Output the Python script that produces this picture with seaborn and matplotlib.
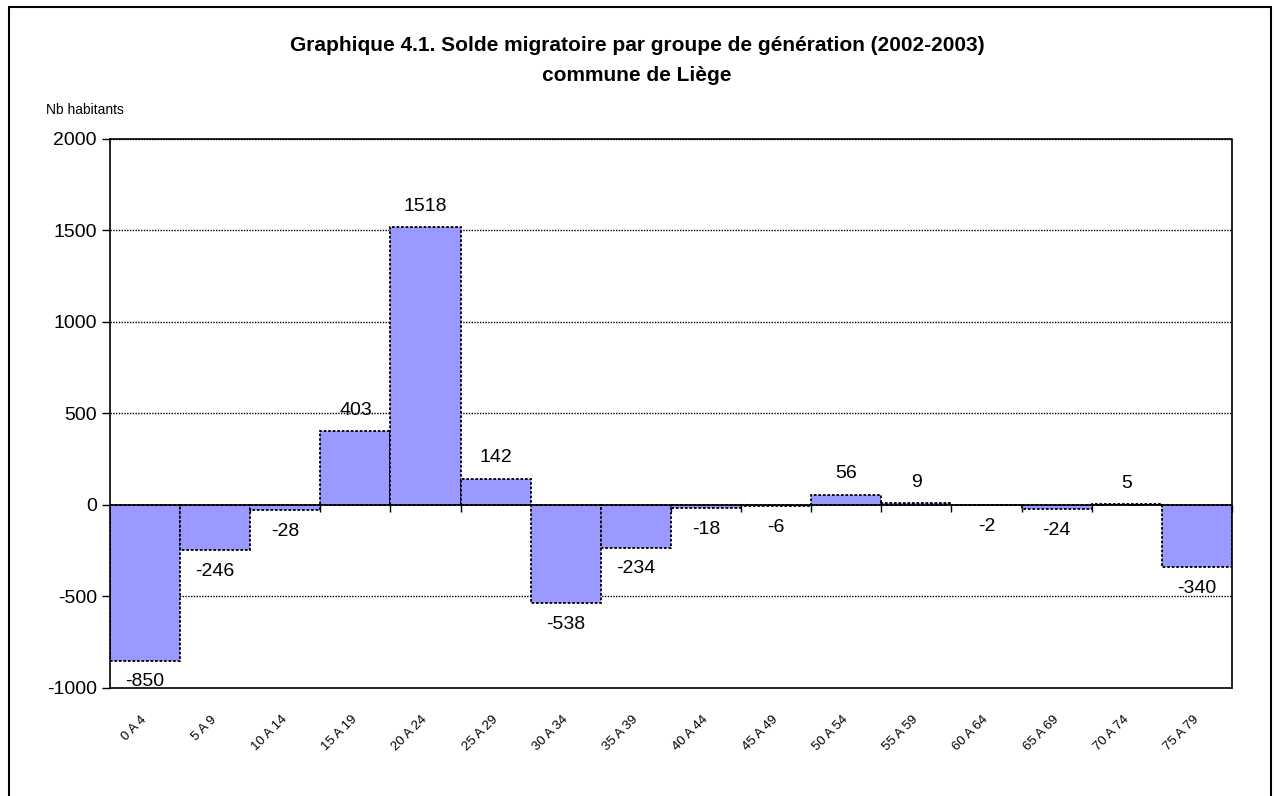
import matplotlib as mpl
import matplotlib.pyplot as plt
import matplotlib.patches as patches
import seaborn as sns
import pandas as pd

sns.set_style("white")
plt.rcParams['font.family'] = ['Liberation Sans', 'DejaVu Sans']
plt.rcParams['text.color'] = 'black'
plt.rcParams['xtick.color'] = 'black'
plt.rcParams['ytick.color'] = 'black'

# donnees
groupes = ['0 A 4', '5 A 9', '10 A 14', '15 A 19', '20 A 24', '25 A 29', '30 A 34', '35 A 39',
           '40 A 44', '45 A 49', '50 A 54', '55 A 59', '60 A 64', '65 A 69', '70 A 74', '75 A 79']
solde = [-850, -246, -28, 403, 1518, 142, -538, -234, -18, -6, 56, 9, -2, -24, 5, -340]
yticks = [-1000, -500, 0, 500, 1000, 1500, 2000]

data = pd.DataFrame({'Groupe': groupes, 'Solde': solde})

fig = plt.figure(figsize=(12.74, 7.96), dpi=100)
ax = fig.add_axes([0.0863, 0.1357, 0.8807, 0.6897])

sns.barplot(data=data, x='Groupe', y='Solde', color='#9999FF', saturation=1, width=1,
            edgecolor='black', linewidth=1.3, linestyle=(0, (1.5, 1)), ax=ax)
ax.set_xlim(-0.5, len(groupes) - 0.5)
ax.set_ylim(-1000, 2000)
ax.set_yticks(yticks)
ax.set_yticklabels([str(v) for v in yticks], fontsize=14)
ax.set_xlabel('')
ax.set_ylabel('')

# grille
for v in yticks[1:]:
    if v != 0:
        ax.axhline(v, color='black', lw=1, ls=(0, (1, 1)), zorder=0)
ax.axhline(0, color='black', lw=1.2, zorder=3)

for side in ['top', 'right', 'bottom']:
    ax.spines[side].set_linestyle((0, (1, 1)))
    ax.spines[side].set_color('black')
    ax.spines[side].set_linewidth(1.2)
ax.spines['left'].set_color('black')
ax.spines['left'].set_linewidth(1.2)
ax.tick_params(axis='y', left=True, length=6, width=1, color='black')

# etiquettes en bas
ax.tick_params(axis='x', bottom=False, pad=18)
ax.set_xticks(range(len(groupes)))
ax.set_xticklabels(groupes, rotation=45, ha='right', va='center', rotation_mode='anchor', fontsize=9.5)

# axe des categories sur la ligne zero
sec = ax.secondary_xaxis(1000 / 3000)
sec.set_xticks([i - 0.5 for i in range(len(groupes) + 1)])
sec.set_xticklabels([])
sec.tick_params(axis='x', direction='out', length=5, width=1, color='black')
sec.spines['bottom'].set_visible(False)

ax.bar_label(ax.containers[0], labels=[str(v) for v in solde], padding=9, fontsize=14)

fig.text(0.5, 0.943, 'Graphique 4.1. Solde migratoire par groupe de génération (2002-2003)',
         ha='center', va='center', fontsize=15, fontweight='bold')
fig.text(0.5, 0.905, 'commune de Liège', ha='center', va='center', fontsize=15, fontweight='bold')
fig.text(0.036, 0.862, 'Nb habitants', ha='left', va='center', fontsize=10)

fig.patches.append(patches.Rectangle((0.007, -0.01), 0.991, 1.001, transform=fig.transFigure,
                                     fill=False, edgecolor='black', lw=1.5))

plt.savefig('out.png', dpi=100)
